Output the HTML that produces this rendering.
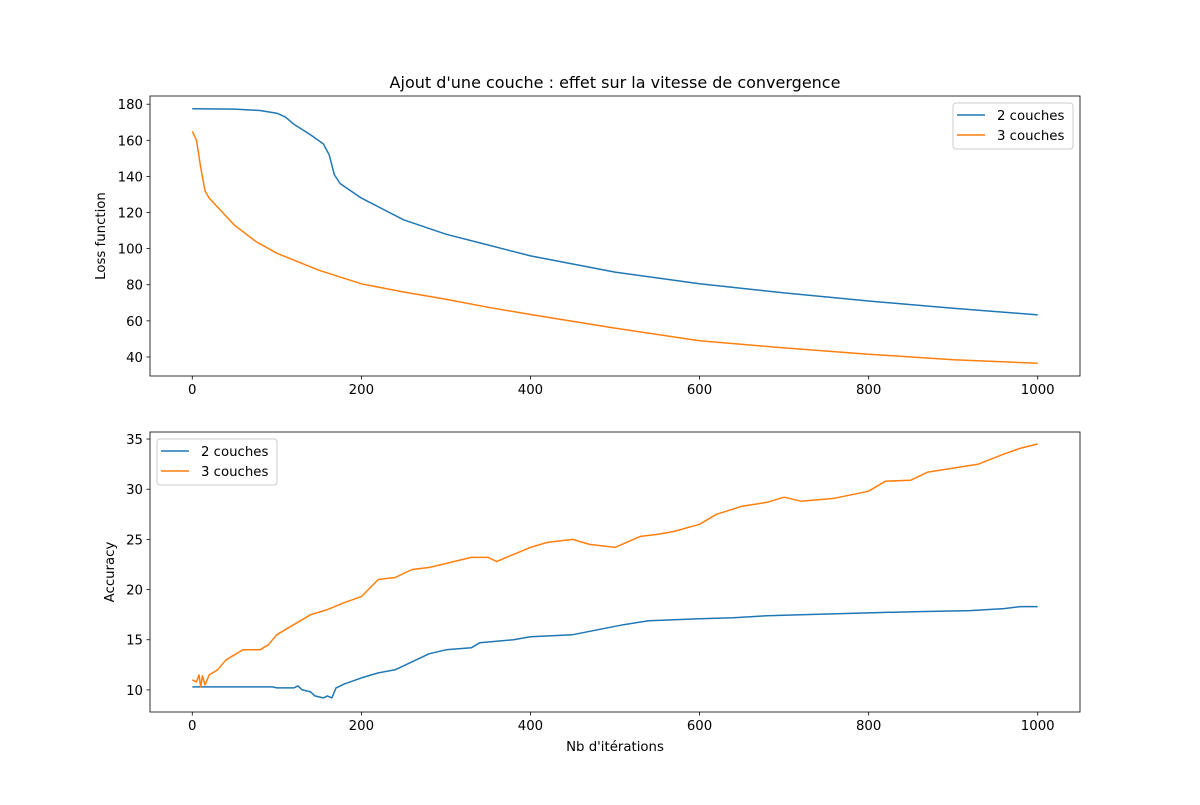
<!DOCTYPE html>
<html><head><meta charset="utf-8"><style>
body{margin:0;background:#fff}
svg text{font-family:"DejaVu Sans","Liberation Sans",sans-serif;font-size:13.3px;fill:#000}
</style></head><body>
<svg id="fig" width="1200" height="800" xmlns="http://www.w3.org/2000/svg"></svg>
<script>
const xTicks=[0,200,400,600,800,1000];
const lossTicks=[40,60,80,100,120,140,160,180];
const accTicks=[10,15,20,25,30,35];
const loss2X=[0,50,80,100,110,120,140,155,162,168,175,200,250,300,350,400,500,600,700,800,900,1000];
const loss2Y=[177.5,177.3,176.5,175,173,169,163,158,152,141,136,128,116,108,102,96,87,80.5,75.5,71,67,63.3];
const loss3X=[0,5,10,15,20,30,50,75,100,150,200,250,300,350,400,500,600,700,800,900,1000];
const loss3Y=[165,160,145,132,128,123,113,104,97.5,88,80.5,76,72,67.5,63.5,56,49,45,41.5,38.5,36.5];
const acc2X=[0,95,100,120,125,130,140,145,155,160,165,170,180,200,220,240,260,280,300,330,340,380,400,450,480,510,540,600,640,680,720,810,860,920,960,980,1000];
const acc2Y=[10.3,10.3,10.2,10.2,10.4,10.0,9.8,9.4,9.2,9.4,9.2,10.2,10.6,11.2,11.7,12,12.8,13.6,14,14.2,14.7,15,15.3,15.5,16,16.5,16.9,17.1,17.2,17.4,17.5,17.7,17.8,17.9,18.1,18.3,18.3];
const acc3X=[0,5,8,10,12,15,20,30,40,50,60,80,90,100,120,140,160,180,200,220,240,260,280,300,330,350,360,380,400,420,450,470,500,530,550,570,600,620,650,680,700,720,760,800,820,850,870,900,930,960,980,1000];
const acc3Y=[11,10.8,11.5,10.3,11.4,10.5,11.5,12,13,13.5,14,14,14.5,15.5,16.5,17.5,18,18.7,19.3,21,21.2,22,22.2,22.6,23.2,23.2,22.8,23.5,24.2,24.7,25,24.5,24.2,25.3,25.5,25.8,26.5,27.5,28.3,28.7,29.2,28.8,29.1,29.8,30.8,30.9,31.7,32.1,32.5,33.5,34.1,34.5];

const NS="http://www.w3.org/2000/svg";
const svg=document.getElementById('fig');
function mk(t,a,p){const e=document.createElementNS(NS,t);for(const k in a)e.setAttribute(k,a[k]);(p||svg).appendChild(e);return e;}
const X0=150,X1=1080,xmin=-50,xmax=1050;
const sx=v=>X0+(v-xmin)/(xmax-xmin)*(X1-X0);
function axis(top,bot,ymin,ymax,yticks,name){
  const sy=v=>bot-(v-ymin)/(ymax-ymin)*(bot-top);
  const g=mk('g',{});
  
  
  xTicks.forEach(t=>{const x=sx(t);
    mk('line',{x1:x,x2:x,y1:bot,y2:bot+3.5,stroke:'#000','stroke-width':0.8},g);
    const tx=mk('text',{x:x,y:bot+18,'text-anchor':'middle'},g);tx.textContent=t;
    
    });
  yticks.forEach(t=>{const y=sy(t);
    mk('line',{x1:X0-3.5,x2:X0,y1:y,y2:y,stroke:'#000','stroke-width':0.8},g);
    const tx=mk('text',{x:X0-7,y:y+5,'text-anchor':'end'},g);tx.textContent=t;
    
    });
  return {g,sy,top,bot};
}
function line(ax,xs,ys,color,name){
  const d=xs.map((x,i)=>(i?'L':'M')+sx(x).toFixed(1)+','+ax.sy(ys[i]).toFixed(1)).join('');
  const p=mk('path',{d:d,fill:'none',stroke:color,'stroke-width':1.5,'stroke-linejoin':'round'},ax.g);
  
  
}
function frame(ax){mk('rect',{x:X0,y:ax.top,width:X1-X0,height:ax.bot-ax.top,fill:'none',stroke:'#000','stroke-width':0.8},ax.g);}
function legend(x,y,name){
  const g=mk('g',{});
  
  
  mk('rect',{x:x,y:y,width:120,height:46,rx:3,fill:'#fff','fill-opacity':0.8,stroke:'#ccc'},g);
  [['2 couches','#1f77b4'],['3 couches','#ff7f0e']].forEach((s,i)=>{
    const yy=y+12+i*20;
    mk('line',{x1:x+4,x2:x+32,y1:yy,y2:yy,stroke:s[1],'stroke-width':1.5},g);
    const t=mk('text',{x:x+44,y:yy+5},g);t.textContent=s[0];
    
    
  });
}
const a1=axis(96,376,29.45,184.55,lossTicks,'loss-axes');
line(a1,loss2X,loss2Y,'#1f77b4','loss-2-couches');
line(a1,loss3X,loss3Y,'#ff7f0e','loss-3-couches');
frame(a1);
legend(953,103,'loss-legend');
const a2=axis(432,712,7.8,35.7,accTicks,'accuracy-axes');
line(a2,acc2X,acc2Y,'#1f77b4','accuracy-2-couches');
line(a2,acc3X,acc3Y,'#ff7f0e','accuracy-3-couches');
frame(a2);
legend(157,439,'accuracy-legend');
let t=mk('text',{x:615,y:88,'text-anchor':'middle',style:'font-size:16px'});t.textContent="Ajout d'une couche : effet sur la vitesse de convergence";


t=mk('text',{x:105,y:236,'text-anchor':'middle',transform:'rotate(-90 105 236)'});t.textContent='Loss function';


t=mk('text',{x:114,y:572,'text-anchor':'middle',transform:'rotate(-90 114 572)'});t.textContent='Accuracy';


t=mk('text',{x:615,y:751,'text-anchor':'middle'});t.textContent="Nb d'itérations";


</script>
</body></html>
